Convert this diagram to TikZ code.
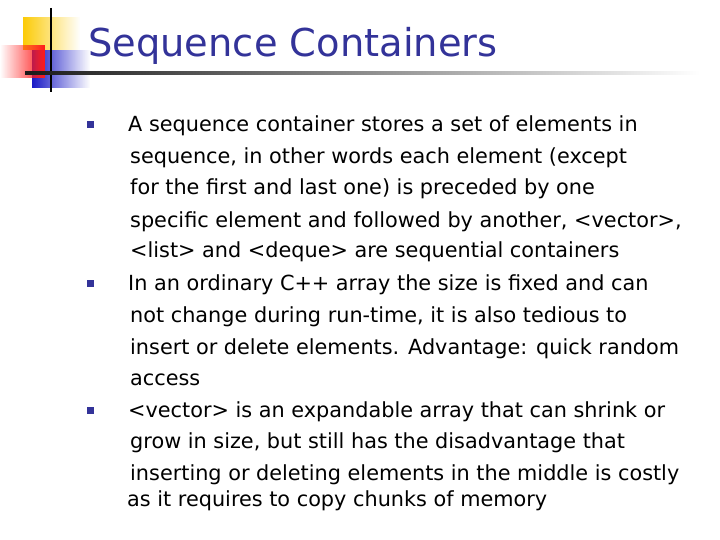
\documentclass[tikz,border=0pt]{standalone}
\usepackage{fontspec}
\setmainfont{DejaVu Sans}
\usetikzlibrary{fadings}
\definecolor{slideblue}{RGB}{51,51,153}
\begin{document}
\begin{tikzpicture}[x=1pt,y=-1pt,
  body/.style={anchor=base west,inner sep=0pt,font=\fontsize{20.8}{22}\selectfont},
  bul/.style={fill=slideblue,draw=none,minimum size=7pt,inner sep=0pt}]
\useasboundingbox[fill=white] (0,0) rectangle (720,540);
\fill[yellow!60!orange!90!yellow,path fading=east] (23,17) rectangle (80,50);
\fill[blue!75!black!90,path fading=east] (32,50) rectangle (90,88);
\fill[red!90,path fading=west] (0,45) rectangle (45,78);
\draw[line width=1.5pt] (51,8) -- (51,92);
\shade[left color=black!90,right color=white] (25,71.5) rectangle (700,74.5);
\node[anchor=base west,inner sep=0pt,text=slideblue,font=\fontsize{38.4}{40}\selectfont] (title) at (88,57) {Sequence Containers};
\node[bul] (b1) at (90,125) {};
\node[bul] (b2) at (90,283) {};
\node[bul] (b3) at (90,410) {};
\node[body] (l1) at (128,132) {A sequence container stores a set of elements in};
\node[body] (l2) at (130,164) {sequence, in other words each element (except};
\node[body] (l3) at (130,195) {for the first and last one) is preceded by one};
\node[body] (l4) at (130,227) {specific element and followed by another, <vector>,};
\node[body] (l5) at (130,258) {<list> and <deque> are sequential containers};
\node[body] (l6) at (128,290) {In an ordinary C++ array the size is fixed and can};
\node[body] (l7) at (130,322) {not change during run-time, it is also tedious to};
\node[body] (l8) at (130,354) {insert or delete elements. Advantage: quick random};
\node[body] (l9) at (130,385) {access};
\node[body] (l10) at (128,417) {<vector> is an expandable array that can shrink or};
\node[body] (l11) at (130,448) {grow in size, but still has the disadvantage that};
\node[body] (l12) at (130,480) {inserting or deleting elements in the middle is costly};
\node[body] (l13) at (127,506) {as it requires to copy chunks of memory};
\end{tikzpicture}
\end{document}
